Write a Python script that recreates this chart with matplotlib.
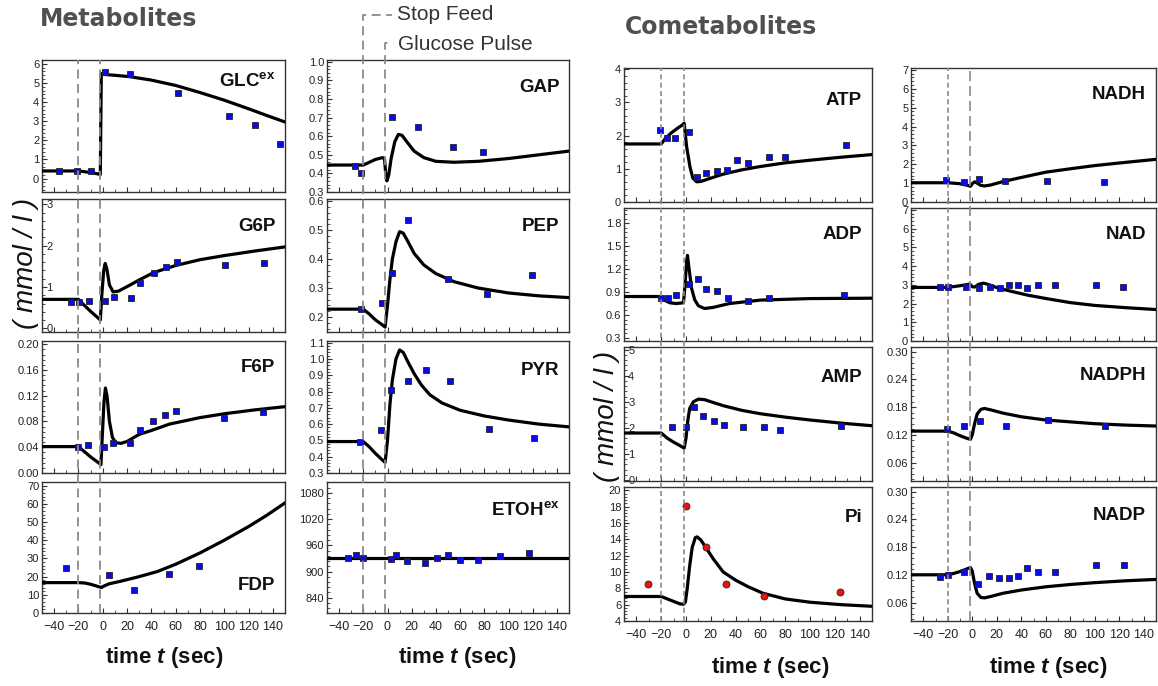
import matplotlib.pyplot as plt
from matplotlib.lines import Line2D
from matplotlib.ticker import MultipleLocator, AutoMinorLocator

plt.rcParams['font.family'] = ['Liberation Sans', 'DejaVu Sans']
plt.rcParams['mathtext.fontset'] = 'custom'
plt.rcParams['mathtext.rm'] = 'Liberation Sans'
plt.rcParams['mathtext.it'] = 'Liberation Sans:italic:bold'
plt.rcParams['mathtext.bf'] = 'Liberation Sans:bold'

# ---------------- data ----------------
# measured points (t in sec) and model curves (ct, cy)
glc_t = [-36, -21, -10, 1.5, 22.6, 62, 104, 125, 146]
glc_y = [0.4, 0.4, 0.39, 5.55, 5.47, 4.5, 3.26, 2.8, 1.8]
glc_ct = [-50, -20, -10, -2, -1.2, 0, 10, 22, 40, 60, 80, 100, 120, 135, 150]
glc_cy = [0.4, 0.4, 0.32, 0.22, 5.5, 5.45, 5.4, 5.33, 5.15, 4.87, 4.5, 4.1, 3.65, 3.3, 2.96]

g6p_t = [-26, -19.3, -11.6, 1.5, 9.2, 23.4, 31, 42.3, 52.2, 61.2, 101, 133]
g6p_y = [0.63, 0.63, 0.67, 0.65, 0.75, 0.73, 1.09, 1.33, 1.49, 1.6, 1.53, 1.57]
g6p_ct = [-50, -20, -15, -10, -5, -2, -0.8, 0.8, 2, 3.3, 5.5, 8.5, 13, 22, 30, 42, 60, 80, 100, 125, 150]
g6p_cy = [0.7, 0.7, 0.55, 0.41, 0.28, 0.2, 0.8, 1.4, 1.57, 1.45, 1.05, 0.88, 0.9, 1.04, 1.17, 1.35,
          1.52, 1.66, 1.76, 1.87, 1.97]

f6p_t = [-20.4, -12.5, 0.7, 8.4, 22.6, 30.3, 41.2, 51.4, 60.4, 100, 132]
f6p_y = [0.041, 0.043, 0.041, 0.047, 0.046, 0.067, 0.080, 0.090, 0.096, 0.085, 0.095]
f6p_ct = [-50, -20, -15, -10, -5, -1.5, -0.3, 1, 2.2, 3.5, 5.5, 8, 11, 15, 20, 30, 40, 55, 80, 100, 125, 150]
f6p_cy = [0.041, 0.041, 0.033, 0.025, 0.018, 0.013, 0.06, 0.11, 0.132, 0.12, 0.08, 0.055, 0.047, 0.046,
          0.049, 0.060, 0.066, 0.076, 0.086, 0.092, 0.098, 0.103]

fdp_t = [-30, 4.8, 25.9, 54.9, 79.6]
fdp_y = [24.5, 21, 12.4, 21.5, 25.8]
fdp_ct = [-50, -20, -15, -10, -5, -1, 0, 5, 15, 30, 45, 60, 80, 100, 120, 135, 150]
fdp_cy = [16.7, 16.7, 16.5, 15.8, 14.8, 14, 14.5, 16, 17.5, 20, 22.8, 26.8, 33, 40, 47.5, 53.7, 60.5]

gap_t = [-26.6, -21.7, 4.1, 25, 53.8, 78.8]
gap_y = [0.44, 0.404, 0.704, 0.648, 0.544, 0.514]
gap_ct = [-50, -20, -15, -10, -4, -2.5, -1.5, -0.5, 1, 3, 6, 9, 12, 16, 22, 30, 40, 55, 75, 100, 125, 150]
gap_cy = [0.445, 0.445, 0.46, 0.475, 0.485, 0.48, 0.40, 0.36, 0.39, 0.48, 0.57, 0.61, 0.605, 0.57,
          0.52, 0.485, 0.465, 0.46, 0.465, 0.48, 0.50, 0.52]

pep_t = [-22, -4.7, 3.6, 17.3, 50.3, 82.4, 119.5]
pep_y = [0.227, 0.247, 0.351, 0.537, 0.33, 0.278, 0.345]
pep_ct = [-50, -20, -15, -10, -5, -2, 0, 2, 4, 7, 10, 13, 17, 22, 30, 40, 55, 75, 100, 125, 150]
pep_cy = [0.227, 0.227, 0.21, 0.19, 0.175, 0.165, 0.24, 0.33, 0.40, 0.46, 0.495, 0.49, 0.46, 0.42,
          0.38, 0.35, 0.322, 0.30, 0.283, 0.273, 0.267]

pyr_t = [-22.4, -5.3, 3.2, 17.3, 32.2, 51.5, 83.5, 120.8]
pyr_y = [0.493, 0.563, 0.81, 0.863, 0.931, 0.863, 0.573, 0.513]
pyr_ct = [-50, -20, -15, -10, -5, -2, 0, 2, 4, 7, 10, 13, 17, 22, 28, 35, 45, 60, 80, 100, 125, 150]
pyr_cy = [0.493, 0.493, 0.46, 0.42, 0.385, 0.365, 0.5, 0.72, 0.87, 1.0, 1.055, 1.04, 0.98, 0.91,
          0.84, 0.78, 0.73, 0.685, 0.65, 0.625, 0.60, 0.583]

etoh_t = [-32.6, -26, -20.2, 3, 7.1, 16.2, 30.8, 41, 50.1, 59.8, 75, 93.2, 117.2]
etoh_y = [932, 938, 930, 928, 937, 925, 919, 932, 937, 927, 927, 935, 942]
etoh_ct = [-50, 150]
etoh_cy = [932, 932]

atp_t = [-21, -15, -8.9, 2.2, 9.1, 16.1, 25, 33, 41.1, 50.3, 67.2, 80.1, 128.8]
atp_y = [2.17, 1.92, 1.92, 2.1, 0.75, 0.88, 0.93, 0.96, 1.26, 1.18, 1.36, 1.36, 1.71]
atp_ct = [-50, -20, -17, -12, -7, -3, -1.5, 0.5, 3.2, 5.5, 8.5, 12, 20, 30, 45, 60, 80, 100, 125, 150]
atp_cy = [1.75, 1.75, 1.9, 2.08, 2.22, 2.32, 2.38, 1.67, 1.06, 0.72, 0.61, 0.62, 0.72, 0.84, 0.97,
          1.07, 1.18, 1.26, 1.35, 1.43]

adp_t = [-20.4, -14.2, -8.3, 2.7, 9.4, 16.4, 25.3, 33.6, 49.7, 66.7, 127.4]
adp_y = [0.82, 0.82, 0.864, 1.0, 1.075, 0.945, 0.909, 0.82, 0.783, 0.82, 0.864]
adp_ct = [-50, -20, -17, -13, -8, -2, -1, 0.5, 1.2, 2.5, 4.5, 7, 10, 15, 22, 35, 60, 100, 150]
adp_cy = [0.842, 0.842, 0.79, 0.76, 0.75, 0.76, 0.95, 1.3, 1.38, 1.2, 0.95, 0.8, 0.72, 0.685, 0.70,
          0.75, 0.795, 0.815, 0.82]

amp_t = [-11.6, 0, 6.5, 13.4, 22.3, 30.4, 46.2, 63.2, 76.1, 125.3]
amp_y = [2.04, 2.04, 2.79, 2.47, 2.25, 2.11, 2.04, 2.04, 1.9, 2.08]
amp_ct = [-50, -20, -15, -10, -5, -1.5, 0, 1.5, 3, 6, 10, 15, 22, 30, 45, 60, 80, 100, 125, 150]
amp_cy = [1.8, 1.8, 1.6, 1.45, 1.32, 1.22, 1.6, 2.3, 2.75, 3.0, 3.1, 3.08, 2.97, 2.85, 2.67, 2.54,
          2.41, 2.3, 2.18, 2.08]

pi_t = [-31, 0, 16, 32, 62.6, 124]
pi_y = [8.5, 18.1, 13.0, 8.55, 7.05, 7.5]
pi_ct = [-50, -20, -15, -10, -5, -2, -0.5, 1, 3, 5, 7.5, 9, 12, 16, 22, 30, 40, 50, 62, 80, 100, 125, 150]
pi_cy = [7.0, 7.0, 6.7, 6.4, 6.1, 6.05, 6.3, 8.0, 10.8, 13.0, 14.2, 14.3, 13.9, 13.0, 11.6, 10.0,
         9.0, 8.2, 7.4, 6.7, 6.3, 6.0, 5.8]

nadh_t = [-21.4, -7.1, 5.6, 26.9, 60.9, 107.4]
nadh_y = [1.16, 1.07, 1.2, 1.12, 1.12, 1.07]
nadh_ct = [-50, -20, -10, -3, -1.5, 0.5, 2, 4, 7, 10, 15, 25, 40, 60, 80, 100, 125, 150]
nadh_cy = [1.02, 1.02, 0.97, 0.87, 0.83, 1.0, 1.07, 1.0, 0.88, 0.85, 0.9, 1.08, 1.3, 1.58, 1.76,
           1.93, 2.1, 2.26]

nad_t = [-26, -19.8, -5.5, 5.3, 14.2, 22.3, 30.2, 37.2, 44.5, 53.4, 67.4, 101.4, 123]
nad_y = [2.88, 2.88, 2.88, 2.83, 2.88, 2.83, 2.97, 2.97, 2.83, 2.97, 2.97, 2.97, 2.9]
nad_ct = [-50, -20, -10, -2, 0, 2, 5, 9, 13, 20, 30, 45, 60, 80, 100, 125, 150]
nad_cy = [2.86, 2.86, 2.95, 3.04, 2.9, 2.88, 3.02, 3.09, 3.02, 2.85, 2.68, 2.45, 2.27, 2.05, 1.9,
          1.78, 1.68]

nadph_t = [-20.5, -6.4, 6.6, 27.8, 61.9, 108]
nadph_y = [0.132, 0.140, 0.149, 0.140, 0.153, 0.140]
nadph_ct = [-50, -20, -15, -10, -5, -1.5, 0, 2, 4, 7, 10, 15, 25, 40, 60, 80, 100, 125, 150]
nadph_cy = [0.128, 0.128, 0.124, 0.118, 0.113, 0.11, 0.12, 0.145, 0.165, 0.175, 0.177, 0.174,
            0.167, 0.159, 0.152, 0.148, 0.144, 0.141, 0.139]

nadp_t = [-26.7, -20.2, -6.4, 5, 14, 21.8, 29.7, 37, 44.3, 53.3, 67.3, 101.2, 123.7]
nadp_y = [0.116, 0.12, 0.125, 0.099, 0.117, 0.112, 0.112, 0.117, 0.134, 0.125, 0.125, 0.142, 0.142]
nadp_ct = [-50, -20, -15, -10, -5, -1.5, 0, 2, 4, 7, 10, 15, 25, 40, 60, 80, 100, 125, 150]
nadp_cy = [0.12, 0.12, 0.123, 0.127, 0.132, 0.136, 0.128, 0.1, 0.08, 0.071, 0.07, 0.073, 0.08,
           0.087, 0.094, 0.099, 0.103, 0.107, 0.11]

# y tick values per panel
glc_ticks = [0, 1, 2, 3, 4, 5, 6]
g6p_ticks = [0, 1, 2, 3]
f6p_ticks = [0.00, 0.04, 0.08, 0.12, 0.16, 0.20]
fdp_ticks = [0, 10, 20, 30, 40, 50, 60, 70]
gap_ticks = [0.3, 0.4, 0.5, 0.6, 0.7, 0.8, 0.9, 1.0]
pep_ticks = [0.2, 0.3, 0.4, 0.5, 0.6]
pyr_ticks = [0.3, 0.4, 0.5, 0.6, 0.7, 0.8, 0.9, 1.0, 1.1]
etoh_ticks = [840, 900, 960, 1020, 1080]
atp_ticks = [0, 1, 2, 3, 4]
adp_ticks = [0.3, 0.6, 0.9, 1.2, 1.5, 1.8]
amp_ticks = [0, 1, 2, 3, 4, 5]
pi_ticks = [4, 6, 8, 10, 12, 14, 16, 18, 20]
nad_ticks = [0, 1, 2, 3, 4, 5, 6, 7]
nadp_ticks = [0.06, 0.12, 0.18, 0.24, 0.30]

stop_feed = -20
glucose_pulse = -2

# ---------------- layout ----------------
W, H = 1158, 686
fig = plt.figure(figsize=(W / 100, H / 100), dpi=100)

cols = [(42, 285), (327, 569), (624, 872), (911, 1156)]
rows_left = [(60, 192), (199, 332), (341, 473), (482, 613)]
rows_right = [(68, 202), (208, 341), (347, 481), (487, 621)]


def box(x0, x1, y0, y1):
    return [x0 / W, 1 - y1 / H, (x1 - x0) / W, (y1 - y0) / H]


# col, row, label, t, y, ct, cy, ylim, ticks, fmt, labels inside, label y, red circles
panels = [
    (0, 0, 'GLC$^{\\mathbf{ex}}$', glc_t, glc_y, glc_ct, glc_cy, (-0.7, 6.2), glc_ticks, '%d', False, 0.84, False),
    (0, 1, 'G6P', g6p_t, g6p_y, g6p_ct, g6p_cy, (-0.09, 3.13), g6p_ticks, '%d', True, 0.79, False),
    (0, 2, 'F6P', f6p_t, f6p_y, f6p_ct, f6p_cy, (0, 0.205), f6p_ticks, '%.2f', False, 0.80, False),
    (0, 3, 'FDP', fdp_t, fdp_y, fdp_ct, fdp_cy, (0, 72), fdp_ticks, '%d', False, 0.21, False),
    (1, 0, 'GAP', gap_t, gap_y, gap_ct, gap_cy, (0.305, 1.01), gap_ticks, '%.1f', False, 0.79, False),
    (1, 1, 'PEP', pep_t, pep_y, pep_ct, pep_cy, (0.148, 0.608), pep_ticks, '%.1f', False, 0.79, False),
    (1, 2, 'PYR', pyr_t, pyr_y, pyr_ct, pyr_cy, (0.326, 1.11), pyr_ticks, '%.1f', False, 0.78, False),
    (1, 3, 'ETOH$^{\\mathbf{ex}}$', etoh_t, etoh_y, etoh_ct, etoh_cy, (805, 1105), etoh_ticks, '%d', False, 0.79, False),
    (2, 0, 'ATP', atp_t, atp_y, atp_ct, atp_cy, (0, 4.04), atp_ticks, '%d', False, 0.76, False),
    (2, 1, 'ADP', adp_t, adp_y, adp_ct, adp_cy, (0.26, 2.0), adp_ticks, '%.1f', False, 0.80, False),
    (2, 2, 'AMP', amp_t, amp_y, amp_ct, amp_cy, (-0.04, 5.1), amp_ticks, '%d', True, 0.77, False),
    (2, 3, 'Pi', pi_t, pi_y, pi_ct, pi_cy, (4, 20.4), pi_ticks, '%d', False, 0.77, True),
    (3, 0, 'NADH', nadh_t, nadh_y, nadh_ct, nadh_cy, (0, 7.1), nad_ticks, '%d', False, 0.80, False),
    (3, 1, 'NAD', nad_t, nad_y, nad_ct, nad_cy, (0, 7.1), nad_ticks, '%d', False, 0.80, False),
    (3, 2, 'NADPH', nadph_t, nadph_y, nadph_ct, nadph_cy, (0.02, 0.31), nadp_ticks, '%.2f', False, 0.79, False),
    (3, 3, 'NADP', nadp_t, nadp_y, nadp_ct, nadp_cy, (0.02, 0.31), nadp_ticks, '%.2f', False, 0.79, False),
]

axes = {}
for col, row, name, t, y, ct, cy, ylim, ticks, fmt, inside, ly, red in panels:
    x0, x1 = cols[col]
    y0, y1 = (rows_left if col < 2 else rows_right)[row]
    ax = fig.add_axes(box(x0, x1, y0, y1))
    axes[(col, row)] = ax
    ax.plot(ct, cy, color='black', lw=2.3, zorder=3)
    if red:
        ax.plot(t, y, 'o', ms=5, mfc='#ee1111', mec='#222222', mew=0.6, zorder=4)
    else:
        ax.plot(t, y, 's', ms=4.6, mfc='#0a0aee', mec='#222222', mew=0.6, zorder=4)
    ax.set_xlim(-50, 150)
    ax.set_ylim(*ylim)
    ax.set_yticks(ticks)
    ax.set_yticklabels([fmt % v for v in ticks])
    ax.yaxis.set_minor_locator(AutoMinorLocator(5))
    ax.xaxis.set_major_locator(MultipleLocator(20))
    ax.xaxis.set_minor_locator(MultipleLocator(10))
    ax.tick_params(which='both', direction='in', color='#333333', labelcolor='#222222')
    ax.tick_params(which='major', length=3.5, width=0.8)
    ax.tick_params(which='minor', length=2, width=0.6)
    ax.tick_params(axis='y', labelsize=8, pad=2)
    ax.tick_params(axis='x', labelsize=9, labelbottom=(row == 3), pad=6)
    if inside:
        ax.tick_params(axis='y', pad=-3)
        for lab in ax.get_yticklabels():
            lab.set_horizontalalignment('left')
    for s in ax.spines.values():
        s.set_color('#333333')
        s.set_linewidth(1.0)
    ax.text(0.96, ly, name, transform=ax.transAxes, ha='right', va='center',
            fontsize=13.5, fontweight='bold', color='#111111')


def px(ax, t):
    return ax.transData.transform((t, 0))[0]


def fig_line(xs, ys, dashes, lw=1.3, color='#8a8a8a'):
    fig.add_artist(Line2D([x / W for x in xs], [1 - y / H for y in ys],
                          transform=fig.transFigure, color=color, lw=lw, dashes=dashes, zorder=5))


# event lines, left group (one line through all four rows)
x_a = px(axes[(0, 3)], stop_feed)
x_b = px(axes[(0, 3)], glucose_pulse)
fig_line([x_a, x_a], [613, 60], (5, 3))
fig_line([x_b, x_b], [613, 60], (5, 3))
x_a = px(axes[(1, 3)], stop_feed)
x_b = px(axes[(1, 3)], glucose_pulse)
fig_line([x_a, x_a, 392], [613, 15, 15], (5, 3))
fig_line([x_b, x_b, 391], [613, 43, 43], (5, 3))
fig.text(397 / W, 1 - 15 / H, 'Stop Feed', fontsize=15, color='#333333', va='center', ha='left')
fig.text(398 / W, 1 - 45 / H, 'Glucose Pulse', fontsize=15, color='#333333', va='center', ha='left')

# event lines, right group
for col, d_stop, d_pulse in [(2, (3, 2), (3, 2)), (3, (3, 2), (6, 3))]:
    x_a = px(axes[(col, 3)], stop_feed)
    x_b = px(axes[(col, 3)], glucose_pulse)
    fig_line([x_a, x_a], [621, 68], d_stop, lw=1.2)
    fig_line([x_b, x_b], [621, 68], d_pulse, lw=1.2)

# titles and axis labels
fig.text(40 / W, 1 - 19 / H, 'Metabolites', fontsize=17, fontweight='bold',
         family='DejaVu Sans', color='#505050', va='center', ha='left')
fig.text(625 / W, 1 - 27 / H, 'Cometabolites', fontsize=17, fontweight='bold',
         family='DejaVu Sans', color='#505050', va='center', ha='left')

fig.text(26 / W, 1 - 263 / H, '( mmol / l )', rotation=90, fontsize=20, style='italic',
         ha='center', va='center', color='#111111')
fig.text(607 / W, 1 - 416 / H, '( mmol / l )', rotation=90, fontsize=20, style='italic',
         ha='center', va='center', color='#111111')

for cx, cy_ in [(164, 657), (457, 657), (770, 668), (1048, 668)]:
    fig.text(cx / W, 1 - cy_ / H, r'time $\mathit{t}$ (sec)', fontsize=16, fontweight='bold',
             ha='center', va='center', color='#111111')

fig.savefig('out.png', dpi=100)
